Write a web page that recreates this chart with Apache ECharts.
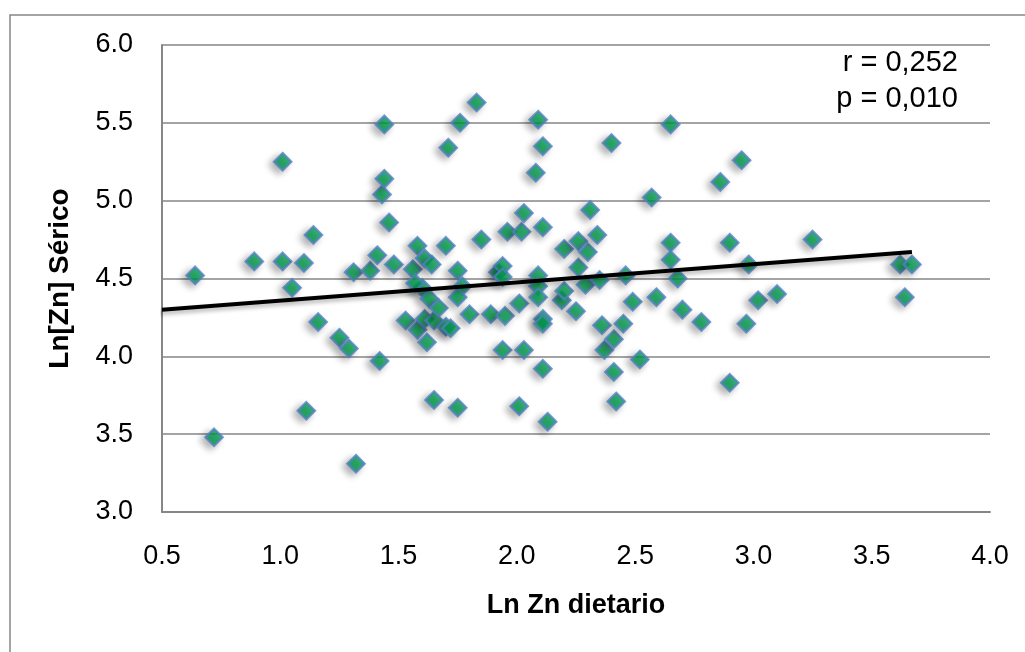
<!DOCTYPE html>
<html>
<head>
<meta charset="utf-8">
<script src="https://cdn.jsdelivr.net/npm/echarts@6/dist/echarts.min.js"></script>
<style>html,body{margin:0;padding:0;background:#fff}#c{width:1025px;height:652px}</style>
</head>
<body>
<div id="c"></div>
<script>
// Ln Zn dietario (x) vs Ln[Zn] Sérico (y)
var xValues = [0.64,0.72,0.89,1.01,1.01,1.05,1.10,1.11,1.14,1.16,1.25,1.29,1.31,1.32,1.38,1.41,1.42,1.43,1.44,1.44,1.46,1.48,1.53,1.56,1.58,1.58,1.60,1.61,1.61,1.62,1.63,1.64,1.65,1.65,1.67,1.70,1.72,1.70,1.71,1.75,1.75,1.76,1.77,1.75,1.80,1.83,1.85,1.89,1.92,1.94,1.94,1.94,1.95,1.96,2.01,2.01,2.02,2.03,2.03,2.08,2.09,2.09,2.09,2.09,2.11,2.11,2.11,2.11,2.11,2.13,2.19,2.20,2.20,2.25,2.26,2.26,2.29,2.30,2.31,2.34,2.35,2.36,2.37,2.40,2.41,2.41,2.42,2.45,2.46,2.49,2.52,2.57,2.59,2.65,2.65,2.65,2.68,2.70,2.78,2.86,2.90,2.90,2.95,2.97,2.98,3.02,3.10,3.25,3.62,3.67,3.64,1.57];
var yValues = [4.52,3.48,4.61,5.25,4.61,4.44,4.60,3.65,4.78,4.22,4.12,4.05,4.54,3.31,4.55,4.65,3.97,5.04,5.14,5.49,4.86,4.59,4.23,4.56,4.71,4.17,4.44,4.63,4.24,4.09,4.37,4.59,3.72,4.23,4.31,4.19,4.18,4.71,5.34,4.55,3.67,5.50,4.45,4.38,4.27,5.63,4.75,4.27,4.54,4.58,4.51,4.04,4.26,4.80,3.68,4.34,4.80,4.92,4.04,5.18,5.52,4.52,4.45,4.38,5.35,4.83,4.24,4.21,3.92,3.58,4.36,4.42,4.69,4.29,4.57,4.74,4.46,4.67,4.94,4.78,4.49,4.20,4.04,5.37,4.11,3.90,3.71,4.21,4.52,4.35,3.98,5.02,4.38,5.49,4.73,4.62,4.50,4.30,4.22,5.12,4.73,3.83,5.26,4.21,4.59,4.36,4.40,4.75,4.59,4.59,4.38,4.47];
// linear trend line end points
var trendX = [0.5, 3.67];
var trendY = [4.30, 4.67];
var xTicks = {min: 0.5, max: 4.0, interval: 0.5};
var yTicks = {min: 3.0, max: 6.0, interval: 0.5};
var statLines = ['r = 0,252', 'p = 0,010'];

var points = xValues.map(function (x, i) { return [x, yValues[i]]; });
var trend = trendX.map(function (x, i) { return [x, trendY[i]]; });

var chart = echarts.init(document.getElementById('c'), null, {renderer: 'canvas'});
var FONT = '"Liberation Sans", Arial, sans-serif';
chart.setOption({
  animation: false,
  backgroundColor: '#fff',
  grid: {left: 162, top: 45, right: 35, bottom: 140},
  xAxis: {
    type: 'value', min: xTicks.min, max: xTicks.max, interval: xTicks.interval,
    name: 'Ln Zn dietario', nameLocation: 'middle', nameGap: 80,
    nameTextStyle: {fontFamily: FONT, fontSize: 27, fontWeight: 'bold', color: '#000'},
    axisLine: {show: true, onZero: false, lineStyle: {color: '#868686', width: 2}},
    axisTick: {show: false},
    splitLine: {show: false},
    axisLabel: {margin: 31, fontFamily: FONT, fontSize: 27, color: '#000',
      formatter: function (v) { return v.toFixed(1); }}
  },
  yAxis: {
    type: 'value', min: yTicks.min, max: yTicks.max, interval: yTicks.interval,
    name: 'Ln[Zn] Sérico', nameLocation: 'middle', nameGap: 88,
    nameTextStyle: {fontFamily: FONT, fontSize: 28, fontWeight: 'bold', color: '#000'},
    axisLine: {show: true, onZero: false, lineStyle: {color: '#868686', width: 2}},
    axisTick: {show: false},
    splitLine: {show: true, lineStyle: {color: '#868686', width: 1.5}},
    axisLabel: {margin: 29, fontFamily: FONT, fontSize: 27, color: '#000',
      formatter: function (v) { return v.toFixed(1); }}
  },
  series: [
    {
      type: 'scatter', data: points, symbol: 'diamond', symbolSize: 17, z: 3,
      itemStyle: {color: '#00A651', borderColor: '#4F81BD', borderWidth: 2.5,
        shadowColor: 'rgba(0,0,0,0.35)', shadowBlur: 7, shadowOffsetX: -4, shadowOffsetY: 3}
    },
    {
      type: 'line', data: trend, symbol: 'none', z: 4, silent: true,
      lineStyle: {color: '#000', width: 4,
        shadowColor: 'rgba(0,0,0,0.3)', shadowBlur: 4, shadowOffsetX: -2, shadowOffsetY: 3}
    }
  ],
  graphic: [
    {type: 'rect', silent: true, z: -1, shape: {x: 10, y: 15, width: 1100, height: 700},
      style: {fill: 'none', stroke: '#868686', lineWidth: 1.5}},
    {type: 'text', right: 67, top: 48, z: 10,
      style: {text: statLines[0], font: '29px ' + FONT, fill: '#000', textAlign: 'right'}},
    {type: 'text', right: 67, top: 84, z: 10,
      style: {text: statLines[1], font: '29px ' + FONT, fill: '#000', textAlign: 'right'}}
  ]
});
</script>
</body>
</html>
